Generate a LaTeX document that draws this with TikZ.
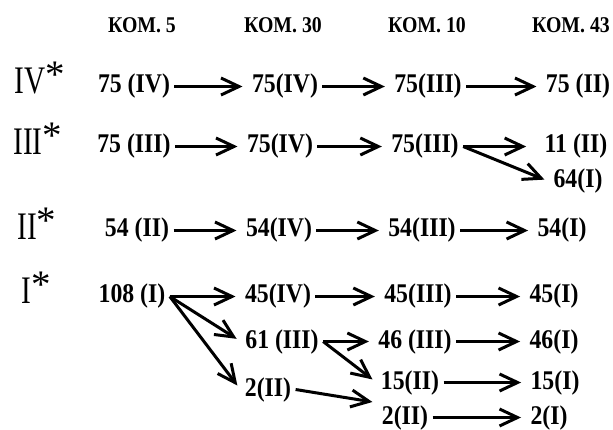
\documentclass[tikz,border=0pt]{standalone}
\usepackage{fontspec}
\setmainfont{Liberation Serif}
\newfontfamily\condfont[FakeStretch=0.88]{Liberation Serif}
\usetikzlibrary{arrows.meta}
\newcommand{\lvlmark}[1]{\scalebox{0.75}[1]{#1}\raisebox{6pt}{*}}

\begin{document}
\begin{tikzpicture}[
    x=1pt, y=-1pt,
    line width=3pt,
    >={Straight Barb[length=18pt,width=17pt]},
    val/.style={font=\fontsize{27}{27}\condfont\bfseries, inner xsep=3pt, inner ysep=1pt, anchor=base},
    head/.style={font=\fontsize{22.5}{22.5}\condfont\bfseries, inner sep=0pt, anchor=base},
    lvl/.style={font=\fontsize{39}{39}\selectfont, inner sep=0pt, anchor=base west},
    link/.style={->, shorten >=5pt}
]
\useasboundingbox (0,0) rectangle (613,430);

% column heads
\node[head] (h1) at (142,33) {КОМ. 5};
\node[head] (h2) at (283,33) {КОМ. 30};
\node[head] (h3) at (427,33) {КОМ. 10};
\node[head] (h4) at (571,33) {КОМ. 43};

% row marks
\node[lvl] (l4) at (13,94) {\lvlmark{IV}};
\node[lvl] (l3) at (12,155) {\lvlmark{III}};
\node[lvl] (l2) at (16,240) {\lvlmark{II}};
\node[lvl] (l1) at (20,304) {\lvlmark{I}};

% row IV
\node[val] (a1) at (134,93) {75 (IV)};
\node[val] (a2) at (285,93) {75(IV)};
\node[val] (a3) at (428,93) {75(III)};
\node[val] (a4) at (578,93) {75 (II)};
\draw[link] (a1) -- (a2);
\draw[link] (a2) -- (a3);
\draw[link] (a3) -- (a4);

% row III
\node[val] (b1) at (134,153) {75 (III)};
\node[val] (b2) at (280,153) {75(IV)};
\node[val] (b3) at (425,153) {75(III)};
\node[val] (b4) at (576,153) {11 (II)};
\node[val] (b5) at (578,188) {64(I)};
\draw[link] (b1) -- (b2);
\draw[link] (b2) -- (b3);
\draw[link, shorten >=14pt] (b3) -- (b4);
\draw[link] (b3.east) -- (b5.west);

% row II
\node[val] (c1) at (137,237) {54 (II)};
\node[val] (c2) at (279,237) {54(IV)};
\node[val] (c3) at (422,237) {54(III)};
\node[val] (c4) at (562,237) {54(I)};
\draw[link] (c1) -- (c2);
\draw[link] (c2) -- (c3);
\draw[link] (c3) -- (c4);

% row I
\node[val] (d1) at (132,303) {108 (I)};
\node[val] (d2) at (278,303) {45(IV)};
\node[val] (d3) at (418,303) {45(III)};
\node[val] (d4) at (554,303) {45(I)};
\node[val] (e1) at (282,348) {61 (III)};
\node[val] (e2) at (415,348) {46 (III)};
\node[val] (e3) at (554,348) {46(I)};
\node[val] (f1) at (268,396) {2(II)};
\node[val] (f2) at (410,389) {15(II)};
\node[val] (f3) at (555,389) {15(I)};
\node[val] (g1) at (405,424) {2(II)};
\node[val] (g2) at (549,424) {2(I)};
\draw[link] (d1.east) -- (d2.west);
\draw[link] (d1.east) -- (e1.west);
\draw[link] (d1.east) -- (f1.west);
\draw[link] (d2) -- (d3);
\draw[link] (d3) -- (d4);
\draw[link] (e1.east) -- (e2.west);
\draw[link] (e1.east) -- (f2.west);
\draw[link] (e2) -- (e3);
\draw[link] (f1.east) -- (g1.north west);
\draw[link] (f2) -- (f3);
\draw[link] (g1) -- (g2);
\end{tikzpicture}
\end{document}
